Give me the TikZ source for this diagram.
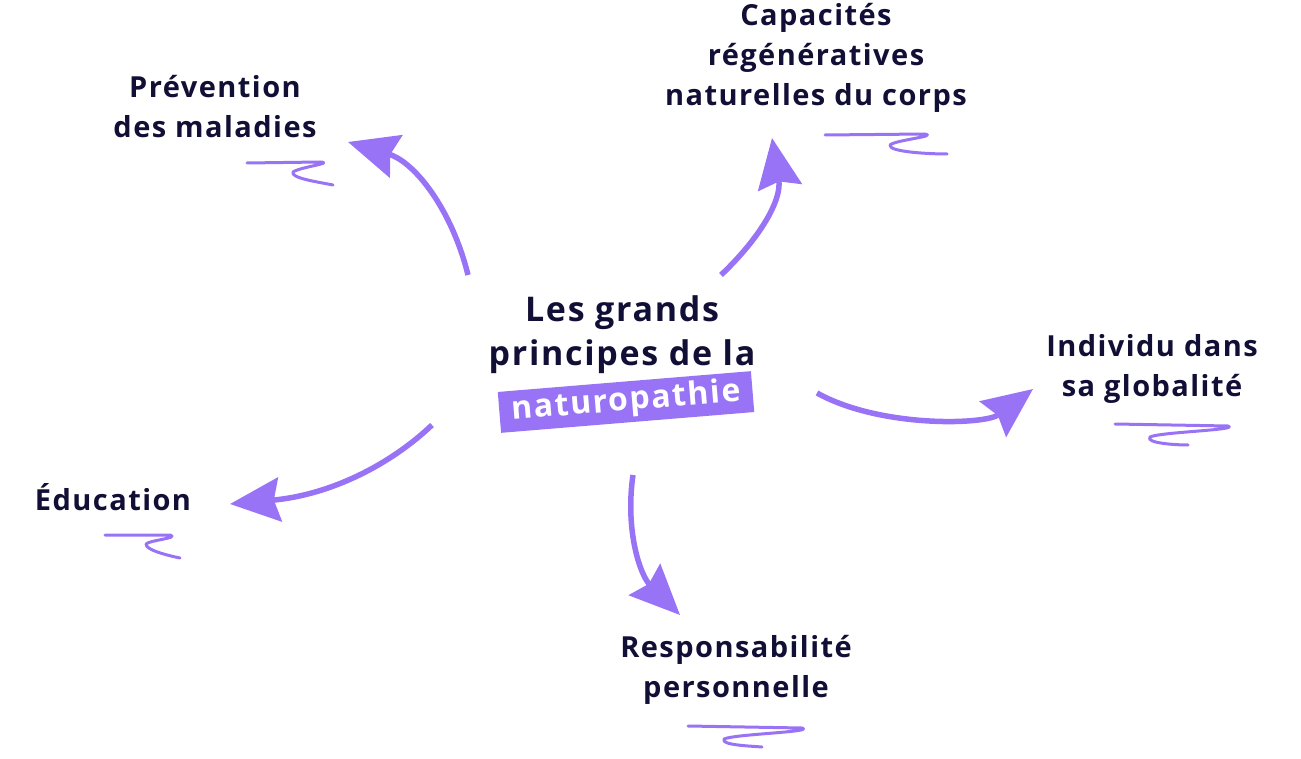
\documentclass[tikz,border=0pt]{standalone}
\usepackage{fontspec}
\setmainfont{Open Sans}[LetterSpace=5]
\usetikzlibrary{arrows.meta}
\definecolor{ink}{HTML}{120F36}
\definecolor{lav}{HTML}{9873F5}
\tikzset{
  lbl/.style={text=ink, font=\fontsize{29}{40}\selectfont\bfseries, align=center, inner sep=0pt},
  ctr/.style={text=ink, font=\fontsize{34}{44}\selectfont\bfseries, align=center, inner sep=0pt},
  conn/.style={draw=lav, line width=5.5pt, -{Stealth[length=50pt,width=44pt,inset=6pt]}},
  squig/.style={draw=lav, line width=3pt, line cap=round, line join=round},
}
\begin{document}
\begin{tikzpicture}[x=1pt,y=-1pt]
\useasboundingbox (0,0) rectangle (1301,759);
% centre
\node[ctr] (les) at (622,313) {Les grands};
\node[ctr] (pri) at (622,357) {principes de la};
\node[fill=lav, rotate=4.7, minimum width=254pt, minimum height=41pt, inner sep=0pt,
      text=white, font=\fontsize{32}{40}\selectfont\bfseries] (nat) at (626,402) {naturopathie};
% labels
\node[lbl] (prev) at (215,107) {Prévention\\des maladies};
\node[lbl] (cap) at (816,58) {Capacités\\régénératives\\naturelles du corps};
\node[lbl] (ind) at (1152,369) {Individu dans\\sa globalité};
\node[lbl] (edu) at (113,497) {Éducation};
\node[lbl] (resp) at (736,670) {Responsabilité\\personnelle};
% connector ends
\coordinate (s1) at (468,275); \coordinate (t1) at (348,142);
\coordinate (s2) at (721,275); \coordinate (t2) at (772,138);
\coordinate (s3) at (817,393); \coordinate (t3) at (1033,389);
\coordinate (s4) at (432,425); \coordinate (t4) at (230,504);
\coordinate (s5) at (633,475); \coordinate (t5) at (680,615);
\draw[conn] (s1) .. controls (452,210) and (415,162) .. (t1);
\draw[conn] (s2) .. controls (760,238) and (782,200) .. (t2);
\draw[conn] (s3) .. controls (880,428) and (985,425) .. (t3);
\draw[conn] (s4) .. controls (390,465) and (330,495) .. (t4);
\draw[conn] (s5) .. controls (625,530) and (640,575) .. (t5);
% squiggles
\draw[squig] (247,163) -- (320,162) .. controls (335,163) and (300,167) .. (293,172) .. controls (290,178) and (318,182) .. (333,185);
\draw[squig] (825,135) -- (924,134) .. controls (940,136) and (895,140) .. (890,145) .. controls (888,152) and (930,154) .. (947,154);
\draw[squig] (1115,424) -- (1228,426) .. controls (1240,430) and (1160,432) .. (1150,437) .. controls (1145,443) and (1175,445) .. (1188,445);
\draw[squig] (105,535) -- (170,535) .. controls (180,538) and (150,540) .. (146,544) .. controls (145,550) and (170,556) .. (180,558);
\draw[squig] (688,726) -- (802,728) .. controls (815,732) and (735,734) .. (724,739) .. controls (720,745) and (750,746) .. (762,747);
\end{tikzpicture}
\end{document}
